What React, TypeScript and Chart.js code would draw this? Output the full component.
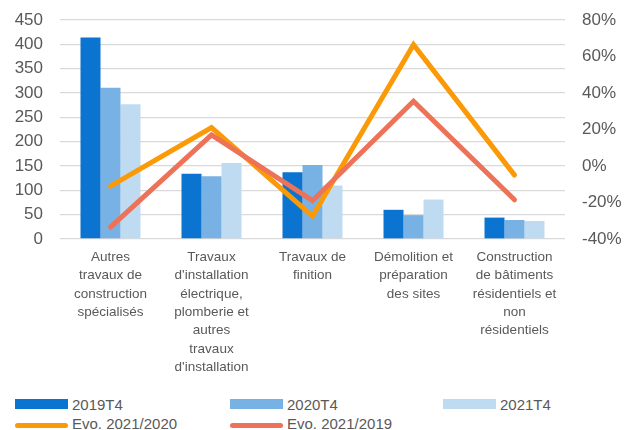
import React, { useEffect, useRef } from "react";
import { Chart, registerables } from "chart.js";

Chart.register(...registerables);

const categories: string[][] = [
  ["Autres", "travaux de", "construction", "spécialisés"],
  ["Travaux", "d'installation", "électrique,", "plomberie et", "autres", "travaux", "d'installation"],
  ["Travaux de", "finition"],
  ["Démolition et", "préparation", "des sites"],
  ["Construction", "de bâtiments", "résidentiels et", "non", "résidentiels"],
];

const v2019T4 = [414, 134, 137, 60, 44];
const v2020T4 = [311, 129, 152, 49, 39];
const v2021T4 = [277, 156, 110, 81, 37];
const evo2021_2020 = [-11, 21, -27.5, 66.5, -5];
const evo2021_2019 = [-33.5, 17, -19, 35.5, -18.5];

const leftTicks = [0, 450, 50];
const rightTicks = [-40, 80, 20];

const C2019 = "#0b74d0";
const C2020 = "#78b1e3";
const C2021 = "#bfdbf1";
const CORANGE = "#fb9a06";
const CRED = "#ec7358";
const TEXT = "#595959";
const GRID = "#d9d9d9";
const FONT = "'Liberation Sans', Arial, sans-serif";

const legendItems = [
  { label: "2019T4", color: C2019, kind: "box" },
  { label: "2020T4", color: C2020, kind: "box" },
  { label: "2021T4", color: C2021, kind: "box" },
  { label: "Evo. 2021/2020", color: CORANGE, kind: "line" },
  { label: "Evo. 2021/2019", color: CRED, kind: "line" },
];

export default function App() {
  const ref = useRef<HTMLCanvasElement | null>(null);

  useEffect(() => {
    if (!ref.current) return;
    const chart = new Chart(ref.current, {
      type: "bar",
      data: {
        labels: categories,
        datasets: [
          {
            type: "line",
            label: "Evo. 2021/2020",
            data: evo2021_2020,
            yAxisID: "y1",
            borderColor: CORANGE,
            backgroundColor: CORANGE,
            borderWidth: 5,
            pointRadius: 0,
            borderCapStyle: "round",
            borderJoinStyle: "miter",
            tension: 0,
            order: 1,
          } as any,
          {
            type: "line",
            label: "Evo. 2021/2019",
            data: evo2021_2019,
            yAxisID: "y1",
            borderColor: CRED,
            backgroundColor: CRED,
            borderWidth: 5,
            pointRadius: 0,
            borderCapStyle: "round",
            borderJoinStyle: "miter",
            tension: 0,
            order: 0,
          } as any,
          {
            label: "2019T4",
            data: v2019T4,
            backgroundColor: C2019,
            yAxisID: "y",
            order: 2,
            categoryPercentage: 0.594,
            barPercentage: 1,
          },
          {
            label: "2020T4",
            data: v2020T4,
            backgroundColor: C2020,
            yAxisID: "y",
            order: 2,
            categoryPercentage: 0.594,
            barPercentage: 1,
          },
          {
            label: "2021T4",
            data: v2021T4,
            backgroundColor: C2021,
            yAxisID: "y",
            order: 2,
            categoryPercentage: 0.594,
            barPercentage: 1,
          },
        ],
      },
      options: {
        animation: false,
        responsive: false,
        layout: { padding: { top: 20, left: 0, right: 0, bottom: 0 } },
        plugins: {
          legend: { display: false },
          tooltip: { enabled: false },
        },
        scales: {
          x: {
            grid: { display: false, drawTicks: false },
            border: { display: false },
            ticks: {
              color: TEXT,
              font: { family: FONT, size: 13.5, lineHeight: 1.36 },
              padding: 9,
              maxRotation: 0,
              autoSkip: false,
            },
            afterFit: (s: any) => {
              s.height = 390 - 239;
              s.paddingLeft = 0;
              s.paddingRight = 0;
            },
          },
          y: {
            position: "left",
            min: leftTicks[0],
            max: leftTicks[1],
            ticks: {
              stepSize: leftTicks[2],
              color: TEXT,
              font: { family: FONT, size: 17 },
              padding: 17,
            },
            grid: { color: GRID, lineWidth: 1.3, drawTicks: false },
            border: { display: false },
            afterFit: (s: any) => {
              s.width = 60;
              s.paddingTop = 0;
              s.paddingBottom = 0;
            },
          },
          y1: {
            position: "right",
            min: rightTicks[0],
            max: rightTicks[1],
            ticks: {
              stepSize: rightTicks[2],
              color: TEXT,
              font: { family: FONT, size: 17 },
              padding: 17,
              callback: (v: any) => v + "%",
            },
            grid: { display: false, drawTicks: false },
            border: { display: false },
            afterFit: (s: any) => {
              s.width = 63;
              s.paddingTop = 0;
              s.paddingBottom = 0;
            },
          },
        },
      },
    });
    return () => chart.destroy();
  }, []);

  const colLeft = [15, 230, 443];

  return (
    <div
      style={{
        position: "absolute",
        left: 0,
        top: 0,
        width: 628,
        height: 430,
        background: "#fff",
        overflow: "hidden",
        fontFamily: FONT,
      }}
    >
      <canvas ref={ref} width={628} height={390} style={{ display: "block" }} />
      {legendItems.map((it, i) => {
        const row = Math.floor(i / 3);
        const col = i % 3;
        const cy = row === 0 ? 404 : 425;
        return (
          <div
            key={it.label}
            style={{
              position: "absolute",
              left: colLeft[col],
              top: cy - 10,
              height: 20,
              display: "flex",
              alignItems: "center",
              whiteSpace: "nowrap",
            }}
          >
            <div
              style={{
                width: 53,
                height: it.kind === "box" ? 10 : 5,
                background: it.color,
                borderRadius: it.kind === "box" ? 0 : 3,
                marginRight: 4,
              }}
            />
            <span
              style={{
                fontSize: 15,
                color: TEXT,
                lineHeight: "20px",
                position: "relative",
                top: row === 0 ? 1 : -1,
              }}
            >
              {it.label}
            </span>
          </div>
        );
      })}
    </div>
  );
}
